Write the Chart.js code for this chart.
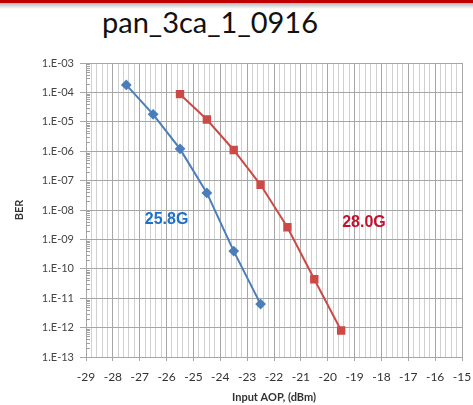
<!DOCTYPE html>
<html>
<head>
<meta charset="utf-8">
<script src="https://cdn.jsdelivr.net/npm/chart.js@4/dist/chart.umd.min.js"></script>
<style>
  html, body { margin: 0; padding: 0; background: #fff; }
  #wrap { position: relative; width: 473px; height: 405px; overflow: hidden; }
  #bar { position: absolute; left: 0; top: 0; width: 473px; height: 3px; background: #c00000; }
  #shade { position: absolute; left: 0; top: 3px; width: 473px; height: 6px;
           background: linear-gradient(#b8b8b8, #ffffff); }
  #title { position: absolute; left: 0; width: 420px; top: 4px; text-align: center;
           font-family: Lato, "Open Sans", sans-serif; font-size: 29px; color: #111; }
  canvas { position: absolute; left: 0; top: 0; }
</style>
</head>
<body>
<div id="wrap">
  <div id="bar"></div>
  <div id="shade"></div>
  <div id="title">pan_3ca_1_0916</div>
  <canvas id="myChart" width="473" height="405"></canvas>
</div>
<script>
// Input AOP (dBm) vs BER
const blueX = [-27.5, -26.5, -25.5, -24.5, -23.5, -22.5];
const blueBER = [1.8e-4, 1.8e-5, 1.2e-6, 3.8e-8, 4e-10, 6.3e-12];
const redX = [-25.5, -24.5, -23.5, -22.5, -21.5, -20.5, -19.5];
const redBER = [8.7e-5, 1.2e-5, 1.1e-6, 7.2e-8, 2.6e-9, 4.4e-11, 8e-13];
const labels = [
  { text: "25.8G", x: -26.0, y: 4.6e-9, color: "#1f6fcc" },
  { text: "28.0G", x: -18.65, y: 3.6e-9, color: "#c8102e" }
];

const isInt = v => Math.abs(v - Math.round(v)) < 1e-6;
const isDecade = v => {
  const e = Math.log10(v);
  return Math.abs(e - Math.round(e)) < 1e-6;
};

const extras = {
  id: "extras",
  afterDraw(chart) {
    const ctx = chart.ctx;
    const xs = chart.scales.x, ys = chart.scales.y;
    const area = chart.chartArea;
    // minor log ticks inside the y axis
    ctx.save();
    ctx.strokeStyle = "#a0a0a0";
    ctx.lineWidth = 1;
    for (let e = -13; e < -3; e++) {
      for (let m = 2; m <= 9; m++) {
        const py = Math.round(ys.getPixelForValue(m * Math.pow(10, e))) + 0.5;
        ctx.beginPath();
        ctx.moveTo(area.left, py);
        ctx.lineTo(area.left + 4, py);
        ctx.stroke();
      }
    }
    ctx.font = "bold 16px Arial, 'Liberation Sans', sans-serif";
    ctx.textAlign = "center";
    ctx.textBaseline = "middle";
    labels.forEach(l => {
      ctx.fillStyle = l.color;
      ctx.fillText(l.text, xs.getPixelForValue(l.x), ys.getPixelForValue(l.y));
    });
    ctx.restore();
  }
};

new Chart(document.getElementById("myChart").getContext("2d"), {
  type: "line",
  data: {
    datasets: [
      {
        label: "25.8G",
        data: blueX.map((x, i) => ({ x: x, y: blueBER[i] })),
        borderColor: "#4a7ebb",
        backgroundColor: "#4a7ebb",
        borderWidth: 2,
        pointStyle: "rectRot",
        pointRadius: 4,
        tension: 0
      },
      {
        label: "28.0G",
        data: redX.map((x, i) => ({ x: x, y: redBER[i] })),
        borderColor: "#cc4a46",
        backgroundColor: "#cc4a46",
        borderWidth: 2,
        pointStyle: "rect",
        pointRadius: 4.5,
        tension: 0
      }
    ]
  },
  options: {
    responsive: false,
    animation: false,
    layout: { padding: { left: 0, top: 63, right: 11, bottom: 0 } },
    plugins: { legend: { display: false }, tooltip: { enabled: false } },
    scales: {
      x: {
        type: "linear",
        min: -29,
        max: -15,
        afterFit: s => { s.height = 48; s.paddingLeft = 0; s.paddingRight = 0; },
        afterBuildTicks: s => {
          const t = [];
          for (let i = 0; i <= 70; i++) t.push({ value: -29 + i * 0.2 });
          s.ticks = t;
        },
        ticks: {
          autoSkip: false,
          maxRotation: 0,
          color: "#333",
          font: { family: "Lato, 'Open Sans', sans-serif", size: 12 },
          padding: 9,
          callback: v => isInt(v) ? String(Math.round(v)) : ""
        },
        grid: {
          color: c => isInt(c.tick.value) ? "#a6a6a6" : "#d0d0d0",
          tickLength: 4,
          tickColor: c => isInt(c.tick.value) ? "#a6a6a6" : "rgba(0,0,0,0)"
        },
        border: { color: "#a6a6a6" },
        title: {
          display: true,
          text: "Input AOP, (dBm)",
          color: "#333",
          font: { family: "Lato, 'Open Sans', sans-serif", size: 11, weight: "bold" },
          padding: { top: 0, bottom: 1 }
        }
      },
      y: {
        type: "logarithmic",
        min: 1e-13,
        max: 1e-3,
        afterFit: s => { s.width = 86; s.paddingTop = 0; s.paddingBottom = 0; },
        ticks: {
          autoSkip: false,
          color: "#444",
          font: { family: "Lato, 'Open Sans', sans-serif", size: 11 },
          padding: 6,
          callback: v => {
            if (!isDecade(v)) return "";
            const e = Math.round(Math.log10(v));
            return "1.E-" + String(-e).padStart(2, "0");
          }
        },
        grid: {
          color: c => isDecade(c.tick.value) ? "#a6a6a6" : "rgba(0,0,0,0)",
          tickLength: 6,
          tickColor: c => isDecade(c.tick.value) ? "#a6a6a6" : "rgba(0,0,0,0)"
        },
        border: { color: "#a6a6a6" },
        title: {
          display: true,
          text: "BER",
          color: "#333",
          font: { family: "Lato, 'Open Sans', sans-serif", size: 11, weight: "bold" },
          padding: { top: 13, bottom: 0 }
        }
      }
    }
  },
  plugins: [extras]
});
</script>
</body>
</html>
